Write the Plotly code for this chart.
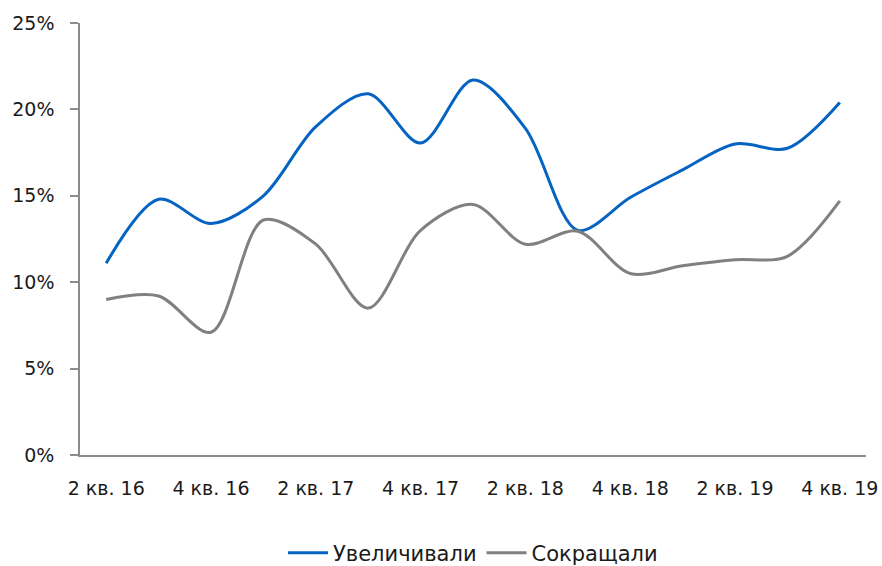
import plotly.graph_objects as go

# Quarters from 2 кв. 16 to 4 кв. 19
quarters = [
    "2 кв. 16", "3 кв. 16", "4 кв. 16",
    "1 кв. 17", "2 кв. 17", "3 кв. 17", "4 кв. 17",
    "1 кв. 18", "2 кв. 18", "3 кв. 18", "4 кв. 18",
    "1 кв. 19", "2 кв. 19", "3 кв. 19", "4 кв. 19",
]
# Share of respondents, %
increased = [11.1, 14.8, 13.4, 15.0, 19.0, 20.9, 18.05, 21.7, 18.9, 13.0, 14.9, 16.5, 18.0, 17.75, 20.4]
decreased = [9.0, 9.2, 7.1, 13.6, 12.2, 8.5, 13.0, 14.5, 12.2, 12.95, 10.5, 10.95, 11.3, 11.5, 14.7]

shown_ticks = quarters[::2]
y_ticks = [0, 5, 10, 15, 20, 25]
y_tick_text = [f"{v}%" for v in y_ticks]

FONT = "DejaVu Sans"
AXIS_COLOR = "#8c8c8c"

fig = go.Figure()
fig.add_trace(go.Scatter(
    x=quarters, y=increased, name="Увеличивали", mode="lines",
    line=dict(color="#0563c1", width=3, shape="spline", smoothing=0.9),
))
fig.add_trace(go.Scatter(
    x=quarters, y=decreased, name="Сокращали", mode="lines",
    line=dict(color="#808080", width=3, shape="spline", smoothing=0.9),
))

fig.update_layout(
    width=882, height=566,
    margin=dict(l=80, r=16, t=23, b=111, autoexpand=False),
    paper_bgcolor="white", plot_bgcolor="white",
    font=dict(family=FONT, size=19, color="#1a1a1a"),
    showlegend=True,
    legend=dict(
        orientation="h", x=0.5, xanchor="center", y=-0.227, yanchor="middle",
        font=dict(size=21), itemwidth=40, traceorder="normal",
    ),
    xaxis=dict(
        type="category", tickmode="array", tickvals=shown_ticks, ticktext=shown_ticks,
        range=[-0.5, len(quarters) - 0.5], automargin=False,
        showline=True, linecolor=AXIS_COLOR, linewidth=1.5,
        showgrid=False, ticks="", ticklabelstandoff=15,
        zeroline=False,
    ),
    yaxis=dict(
        range=[0, 25], tickmode="array", tickvals=y_ticks, ticktext=y_tick_text,
        automargin=False,
        showline=True, linecolor=AXIS_COLOR, linewidth=1.5,
        ticks="outside", ticklen=8, tickcolor=AXIS_COLOR, tickwidth=1.5,
        showgrid=False, zeroline=False, ticklabelstandoff=12,
    ),
)

fig.write_html("out.html")
